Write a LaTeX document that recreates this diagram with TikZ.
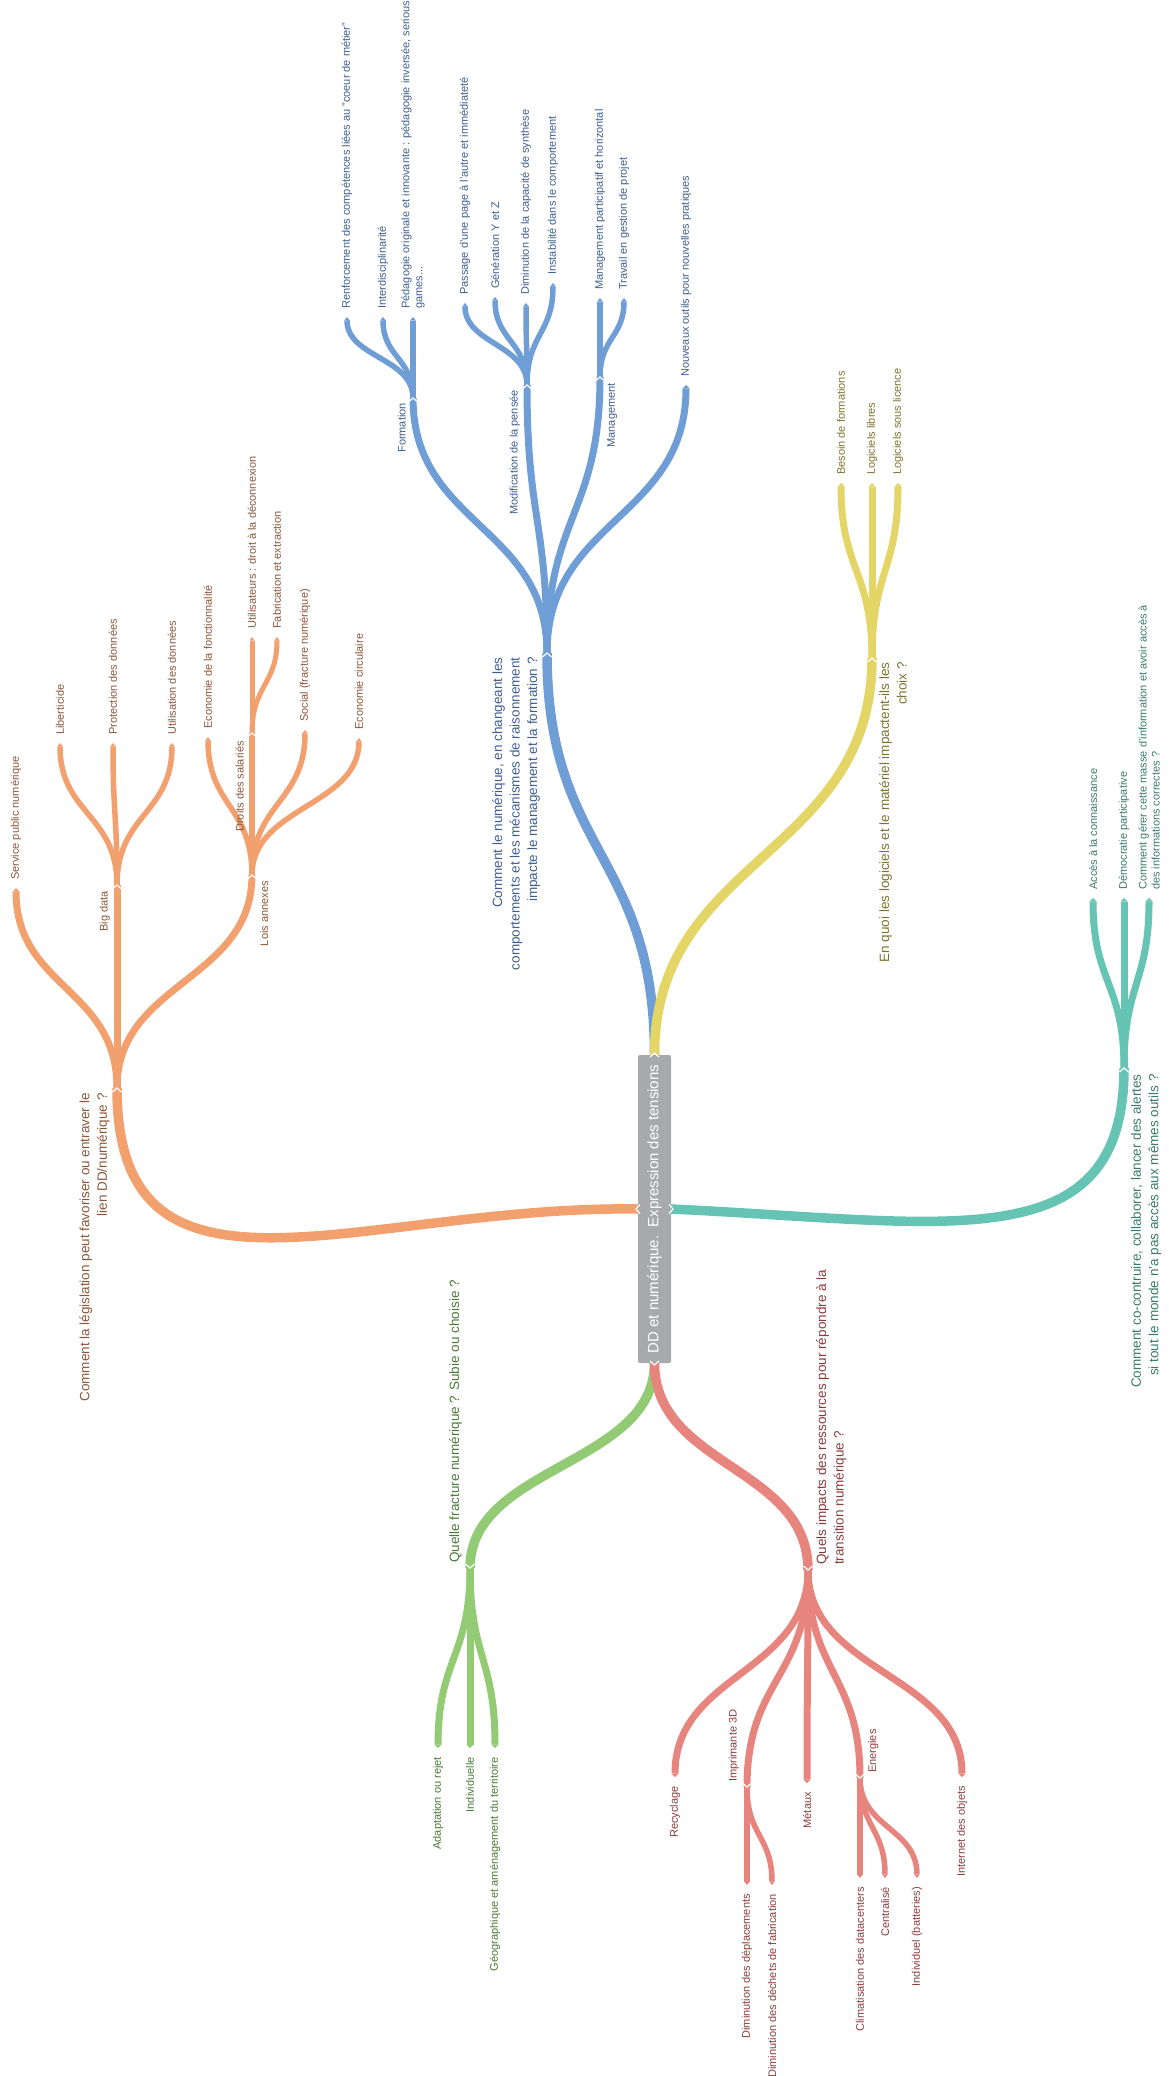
\documentclass[tikz,border=0pt]{standalone}
\usepackage{fontspec}
\setmainfont{Liberation Sans}
\usetikzlibrary{arrows.meta,calc}
\definecolor{cblue}{HTML}{6F9ED6}
\definecolor{tblue}{HTML}{3F5E8E}
\definecolor{corange}{HTML}{F2A06E}
\definecolor{torange}{HTML}{8A573A}
\definecolor{cyellow}{HTML}{E4D567}
\definecolor{tyellow}{HTML}{7B7530}
\definecolor{cteal}{HTML}{66C4B4}
\definecolor{tteal}{HTML}{3A7A6A}
\definecolor{cgreen}{HTML}{92CB73}
\definecolor{tgreen}{HTML}{4C7A38}
\definecolor{cred}{HTML}{E8847E}
\definecolor{tred}{HTML}{8A3C3D}
\definecolor{cgray}{HTML}{A8A9AB}
\begin{document}
\begin{tikzpicture}[x=1pt,y=-1pt,
  br/.style={to path={.. controls ($(\tikztostart)!0.5!(\tikztostart|-\tikztotarget)$) and ($(\tikztotarget)!0.5!(\tikztotarget|-\tikztostart)$) .. (\tikztotarget)}},
  pointy/.style={-{Triangle[length=3.5pt,width=0pt 1,line width=0pt]}},
  lA/.style={line width=9.5pt,line cap=butt},
  lB/.style={line width=7pt,line cap=butt},
  lC/.style={line width=5.5pt,line cap=butt},
  lab/.style={rotate=90,inner sep=0pt,font=\fontsize{11}{13}\selectfont},
  qlab/.style={rotate=90,inner sep=0pt,font=\fontsize{13.5}{17.5}\selectfont},
  chev/.style={draw=white,line width=1.2pt,line join=miter,line cap=butt},
  rootbox/.style={fill=cgray, rounded corners=2pt, rotate=90, minimum width=308pt, minimum height=33pt, inner sep=0pt, text=white, font=\fontsize{15}{18}\selectfont},
]
\useasboundingbox (0,0) rectangle (1168,2076);

% ---------- root exits ----------
\coordinate (rt) at (654.5,1055);
\coordinate (rb) at (654.5,1363);
\coordinate (rl) at (638,1209);
\coordinate (rr) at (671,1209);

% ---------- coordinates ----------
% blue
\coordinate (jb) at (547,653);
\coordinate (jform) at (413,398);
\coordinate (jmod) at (527,385);
\coordinate (jmgmt) at (600,377);
\coordinate (tnouv) at (686,385);
\coordinate (trenf) at (347,317);
\coordinate (tinter) at (383,317);
\coordinate (tpeda) at (413,317);
\coordinate (tpass) at (465,303);
\coordinate (tgen) at (495,297);
\coordinate (tdim) at (526,303);
\coordinate (tinst) at (553,283);
\coordinate (tmgp) at (600,298);
\coordinate (ttrav) at (624,298);
% yellow
\coordinate (jy) at (872,658);
\coordinate (tbes) at (841,483);
\coordinate (tll) at (872,483);
\coordinate (tlsl) at (898,483);
% teal
\coordinate (jt) at (1124,1068);
\coordinate (tacc) at (1093,898);
\coordinate (tdem) at (1124,898);
\coordinate (tger) at (1149,898);
% orange
\coordinate (jo) at (117,1088);
\coordinate (tserv) at (16,888);
\coordinate (jbig) at (117,885);
\coordinate (tlib) at (60,743);
\coordinate (tprot) at (113,743);
\coordinate (tutil) at (172,743);
\coordinate (jlois) at (252,875);
\coordinate (tecof) at (208,737);
\coordinate (jdroit) at (252,733);
\coordinate (tsoc) at (305,730);
\coordinate (tecoc) at (359,738);
\coordinate (tutild) at (252,637);
\coordinate (tfab) at (277,637);
% green
\coordinate (jg) at (470,1568);
\coordinate (tadap) at (438,1748);
\coordinate (tindiv) at (470,1748);
\coordinate (tgeo) at (495,1748);
% red
\coordinate (jr) at (808,1570);
\coordinate (trec) at (675,1777);
\coordinate (jimp) at (747,1787);
\coordinate (tmet) at (807,1783);
\coordinate (jen) at (860,1778);
\coordinate (tint) at (962,1777);
\coordinate (tdimd) at (747,1885);
\coordinate (tdimf) at (772,1885);
\coordinate (tclim) at (860,1878);
\coordinate (tcent) at (885,1878);
\coordinate (tind) at (917,1878);

% ---------- branches ----------
% blue
\draw[cblue,lA] (rt) to[br] (jb);
\draw[cblue,lB] (jb) to[br] (jform);
\draw[cblue,lB] (jb) to[br] (jmod);
\draw[cblue,lB] (jb) to[br] (jmgmt);
\draw[cblue,lB,pointy] (jb) to[br] (tnouv);
\draw[cblue,lC,pointy] (jform) to[br] (trenf);
\draw[cblue,lC,pointy] (jform) to[br] (tinter);
\draw[cblue,lC,pointy] (jform) to[br] (tpeda);
\draw[cblue,lC,pointy] (jmod) to[br] (tpass);
\draw[cblue,lC,pointy] (jmod) to[br] (tgen);
\draw[cblue,lC,pointy] (jmod) to[br] (tdim);
\draw[cblue,lC,pointy] (jmod) to[br] (tinst);
\draw[cblue,lC,pointy] (jmgmt) to[br] (tmgp);
\draw[cblue,lC,pointy] (jmgmt) to[br] (ttrav);
% yellow
\draw[cyellow,lA] (rt) to[br] (jy);
\draw[cyellow,lB,pointy] (jy) to[br] (tbes);
\draw[cyellow,lB,pointy] (jy) to[br] (tll);
\draw[cyellow,lB,pointy] (jy) to[br] (tlsl);
% teal
\draw[cteal,lA] (rr) .. controls (950,1222) and (1124,1262) .. (jt);
\draw[cteal,lB,pointy] (jt) to[br] (tacc);
\draw[cteal,lB,pointy] (jt) to[br] (tdem);
\draw[cteal,lB,pointy] (jt) to[br] (tger);
% orange
\draw[corange,lA] (rl) .. controls (360,1205) and (117,1330) .. (jo);
\draw[corange,lB,pointy] (jo) to[br] (tserv);
\draw[corange,lB] (jo) to[br] (jbig);
\draw[corange,lB] (jo) to[br] (jlois);
\draw[corange,lC,pointy] (jbig) to[br] (tlib);
\draw[corange,lC,pointy] (jbig) to[br] (tprot);
\draw[corange,lC,pointy] (jbig) to[br] (tutil);
\draw[corange,lC,pointy] (jlois) to[br] (tecof);
\draw[corange,lC] (jlois) to[br] (jdroit);
\draw[corange,lC,pointy] (jlois) to[br] (tsoc);
\draw[corange,lC,pointy] (jlois) to[br] (tecoc);
\draw[corange,line width=5pt,line cap=butt,pointy] (jdroit) to[br] (tutild);
\draw[corange,line width=5pt,line cap=butt,pointy] (jdroit) to[br] (tfab);
% green
\draw[cgreen,lA] (rb) to[br] (jg);
\draw[cgreen,lB,pointy] (jg) to[br] (tadap);
\draw[cgreen,lB,pointy] (jg) to[br] (tindiv);
\draw[cgreen,lB,pointy] (jg) to[br] (tgeo);
% red
\draw[cred,lA] (rb) to[br] (jr);
\draw[cred,lB,pointy] (jr) to[br] (trec);
\draw[cred,lB] (jr) to[br] (jimp);
\draw[cred,lB,pointy] (jr) to[br] (tmet);
\draw[cred,lB] (jr) to[br] (jen);
\draw[cred,lB,pointy] (jr) to[br] (tint);
\draw[cred,lC,pointy] (jimp) to[br] (tdimd);
\draw[cred,lC,pointy] (jimp) to[br] (tdimf);
\draw[cred,lC,pointy] (jen) to[br] (tclim);
\draw[cred,lC,pointy] (jen) to[br] (tcent);
\draw[cred,lC,pointy] (jen) to[br] (tind);

% root on top
\node (root) [rootbox] at (654.5,1209) {DD et numérique.\ \ Expression des tensions};

% ---------- chevrons ----------
\foreach \p in {jb,jform,jmod,jmgmt,jo,jbig,jlois,jdroit,jy,jt}
  \draw[chev] ($(\p)+(-4.5,4)$) -- (\p) -- ($(\p)+(4.5,4)$);
\foreach \p in {jg,jr,jimp,jen}
  \draw[chev] ($(\p)+(-4.5,-4)$) -- (\p) -- ($(\p)+(4.5,-4)$);
\draw[chev] ($(rt)+(-4.5,2)$) -- ($(rt)+(0,-2)$) -- ($(rt)+(4.5,2)$);
\draw[chev] ($(rb)+(-4.5,-2)$) -- ($(rb)+(0,2)$) -- ($(rb)+(4.5,-2)$);
\draw[chev] ($(rl)+(2,-4.5)$) -- ($(rl)+(-2,0)$) -- ($(rl)+(2,4.5)$);
\draw[chev] ($(rr)+(-2,-4.5)$) -- ($(rr)+(2,0)$) -- ($(rr)+(-2,4.5)$);

% ---------- labels: blue ----------
\node[qlab,text=tblue,anchor=south east,align=right] (lb) at ($(jb)+(-7,4)$) {Comment le numérique, en changeant les\\comportements et les mécanismes de raisonnement\\impacte le management et la formation ?};
\node[lab,text=tblue,anchor=south east] (lform) at ($(jform)+(-7,5)$) {Formation};
\node[lab,text=tblue,anchor=south east] (lmod) at ($(jmod)+(-7,5)$) {Modification de la pensée};
\node[lab,text=tblue,anchor=north east] (lmgmt) at ($(jmgmt)+(7,6)$) {Management};
\node[lab,text=tblue,anchor=west] (lnouv) at ($(tnouv)+(0,-8)$) {Nouveaux outils pour nouvelles pratiques};
\node[lab,text=tblue,anchor=west] (lrenf) at ($(trenf)+(0,-8)$) {Renforcement des compétences liées au "coeur de métier"};
\node[lab,text=tblue,anchor=west] (linter) at ($(tinter)+(0,-8)$) {Interdisciplinarité};
\node[lab,text=tblue,anchor=west,align=left] (lpeda) at ($(tpeda)+(0,-8)$) {Pédagogie originale et innovante : pédagogie inversée, serious\\games...};
\node[lab,text=tblue,anchor=west] (lpass) at ($(tpass)+(0,-8)$) {Passage d'une page à l'autre et immédiateté};
\node[lab,text=tblue,anchor=west] (lgen) at ($(tgen)+(0,-8)$) {Génération Y et Z};
\node[lab,text=tblue,anchor=west] (ldim) at ($(tdim)+(0,-8)$) {Diminution de la capacité de synthèse};
\node[lab,text=tblue,anchor=west] (linst) at ($(tinst)+(0,-8)$) {Instabilité dans le comportement};
\node[lab,text=tblue,anchor=west] (lmgp) at ($(tmgp)+(0,-8)$) {Management participatif et horizontal};
\node[lab,text=tblue,anchor=west] (ltrav) at ($(ttrav)+(0,-8)$) {Travail en gestion de projet};

% ---------- labels: yellow ----------
\node[qlab,text=tyellow,anchor=north east,align=right] (ly) at ($(jy)+(7,4)$) {En quoi les logiciels et le matériel impactent-ils les\\choix ?};
\node[lab,text=tyellow,anchor=west] (lbes) at ($(tbes)+(0,-8)$) {Besoin de formations};
\node[lab,text=tyellow,anchor=west] (lll) at ($(tll)+(0,-8)$) {Logiciels libres};
\node[lab,text=tyellow,anchor=west] (llsl) at ($(tlsl)+(0,-8)$) {Logiciels sous licence};

% ---------- labels: teal ----------
\node[qlab,text=tteal,anchor=north east,align=right] (lt) at ($(jt)+(7,6)$) {Comment co-contruire, collaborer, lancer des alertes\\si tout le monde n'a pas accès aux mêmes outils ?};
\node[lab,text=tteal,anchor=west] (lacc) at ($(tacc)+(0,-8)$) {Accès à la connaissance};
\node[lab,text=tteal,anchor=west] (ldem) at ($(tdem)+(0,-8)$) {Démocratie participative};
\node[lab,text=tteal,anchor=west,align=left] (lger) at ($(tger)+(0,-8)$) {Comment gérer cette masse d'information et avoir accès à\\des informations correctes ?};

% ---------- labels: orange ----------
\node[qlab,text=torange,anchor=south east,align=right] (lo) at ($(jo)+(-7,5)$) {Comment la législation peut favoriser ou entraver le\\lien DD/numérique ?};
\node[lab,text=torange,anchor=west] (lserv) at ($(tserv)+(0,-8)$) {Service public numérique};
\node[lab,text=torange,anchor=south east] (lbig) at ($(jbig)+(-7,6)$) {Big data};
\node[lab,text=torange,anchor=west] (llib) at ($(tlib)+(0,-8)$) {Liberticide};
\node[lab,text=torange,anchor=west] (lprot) at ($(tprot)+(0,-8)$) {Protection des données};
\node[lab,text=torange,anchor=west] (lutil) at ($(tutil)+(0,-8)$) {Utilisation des données};
\node[lab,text=torange,anchor=north east] (llois) at ($(jlois)+(8,6)$) {Lois annexes};
\node[lab,text=torange,anchor=west] (lecof) at ($(tecof)+(0,-8)$) {Economie de la fonctionnalité};
\node[lab,text=torange,anchor=south east] (ldroit) at ($(jdroit)+(-8,8)$) {Droits des salariés};
\node[lab,text=torange,anchor=west] (lsoc) at ($(tsoc)+(0,-8)$) {Social (fracture numérique)};
\node[lab,text=torange,anchor=west] (lecoc) at ($(tecoc)+(0,-8)$) {Economie circulaire};
\node[lab,text=torange,anchor=west] (lutild) at ($(tutild)+(0,-8)$) {Utilisateurs : droit à la déconnexion};
\node[lab,text=torange,anchor=west] (lfab) at ($(tfab)+(0,-8)$) {Fabrication et extraction};

% ---------- labels: green ----------
\node[qlab,text=tgreen,anchor=south west] (lg) at ($(jg)+(-8,-5)$) {Quelle fracture numérique ? Subie ou choisie ?};
\node[lab,text=tgreen,anchor=east] (ladap) at ($(tadap)+(0,9)$) {Adaptation ou rejet};
\node[lab,text=tgreen,anchor=east] (lindiv) at ($(tindiv)+(0,9)$) {Individuelle};
\node[lab,text=tgreen,anchor=east] (lgeo) at ($(tgeo)+(0,9)$) {Géographique et aménagement du territoire};

% ---------- labels: red ----------
\node[qlab,text=tred,anchor=north west,align=left] (lr) at ($(jr)+(8,-5)$) {Quels impacts des ressources pour répondre à la\\transition numérique ?};
\node[lab,text=tred,anchor=east] (lrec) at ($(trec)+(0,9)$) {Recyclage};
\node[lab,text=tred,anchor=south west] (limp) at ($(jimp)+(-8,-5)$) {Imprimante 3D};
\node[lab,text=tred,anchor=east] (lmet) at ($(tmet)+(0,9)$) {Métaux};
\node[lab,text=tred,anchor=north west] (len) at ($(jen)+(8,-5)$) {Energies};
\node[lab,text=tred,anchor=east] (lint) at ($(tint)+(0,9)$) {Internet des objets};
\node[lab,text=tred,anchor=east] (ldimd) at ($(tdimd)+(0,9)$) {Diminution des déplacements};
\node[lab,text=tred,anchor=east] (ldimf) at ($(tdimf)+(0,9)$) {Diminution des déchets de fabrication};
\node[lab,text=tred,anchor=east] (lclim) at ($(tclim)+(0,9)$) {Climatisation des datacenters};
\node[lab,text=tred,anchor=east] (lcent) at ($(tcent)+(0,9)$) {Centralisé};
\node[lab,text=tred,anchor=east] (lind) at ($(tind)+(0,9)$) {Individuel (batteries)};
\end{tikzpicture}
\end{document}
